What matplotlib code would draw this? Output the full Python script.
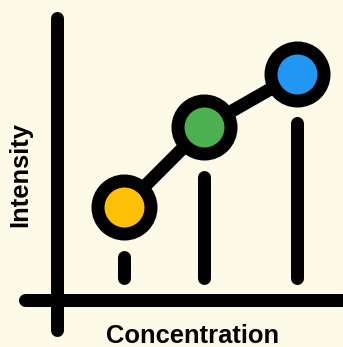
import matplotlib
matplotlib.use("Agg")
import matplotlib.pyplot as plt

# data (concentration vs intensity)
concentration = [1.0, 2.0, 3.16]
intensity = [9.3, 17.3, 22.6]
bar_top = [4.3, 12.3, 17.7]
bar_bottom = [2.2, 2.2, 2.2]
dot_colors = ["#FFC107", "#4CAF50", "#2196F3"]

bg = "#FDFBE8"
px = 72 / 100  # points per pixel at dpi 100
lw = 13 * px

fig = plt.figure(figsize=(3.43, 3.47), dpi=100, facecolor=bg)
ax = fig.add_axes([0, 0, 1, 1])
ax.set_facecolor(bg)
ax.set_xlim(-0.55, 3.7375)
ax.set_ylim(-4.7, 30.0)
ax.axis("off")

# hand-drawn style axes
ax.plot([0.1625, 0.1625], [-3.0, 28.2], color="black", lw=lw, solid_capstyle="round")
ax.plot([-0.2375, 3.72], [0, 0], color="black", lw=lw, solid_capstyle="round")

# bars
for x, b, t in zip(concentration, bar_bottom, bar_top):
    ax.plot([x, x], [b, t], color="black", lw=lw, solid_capstyle="round")

# connecting line + dots
ax.plot(concentration, intensity, color="black", lw=lw, zorder=3)
for x, y, c in zip(concentration, intensity, dot_colors):
    ax.plot(x, y, marker="o", ms=53 * px, mew=lw, mec="black", mfc=c, zorder=4)

font = dict(family=["Liberation Sans", "DejaVu Sans"], weight="bold", size=18.4)
ax.text(-0.3, 12.5, "Intensity", rotation=90, ha="center", va="center", **font)
ax.text(1.86, -3.6, "Concentration", ha="center", va="center", **font)

fig.savefig("out.png", dpi=100, facecolor=bg)
